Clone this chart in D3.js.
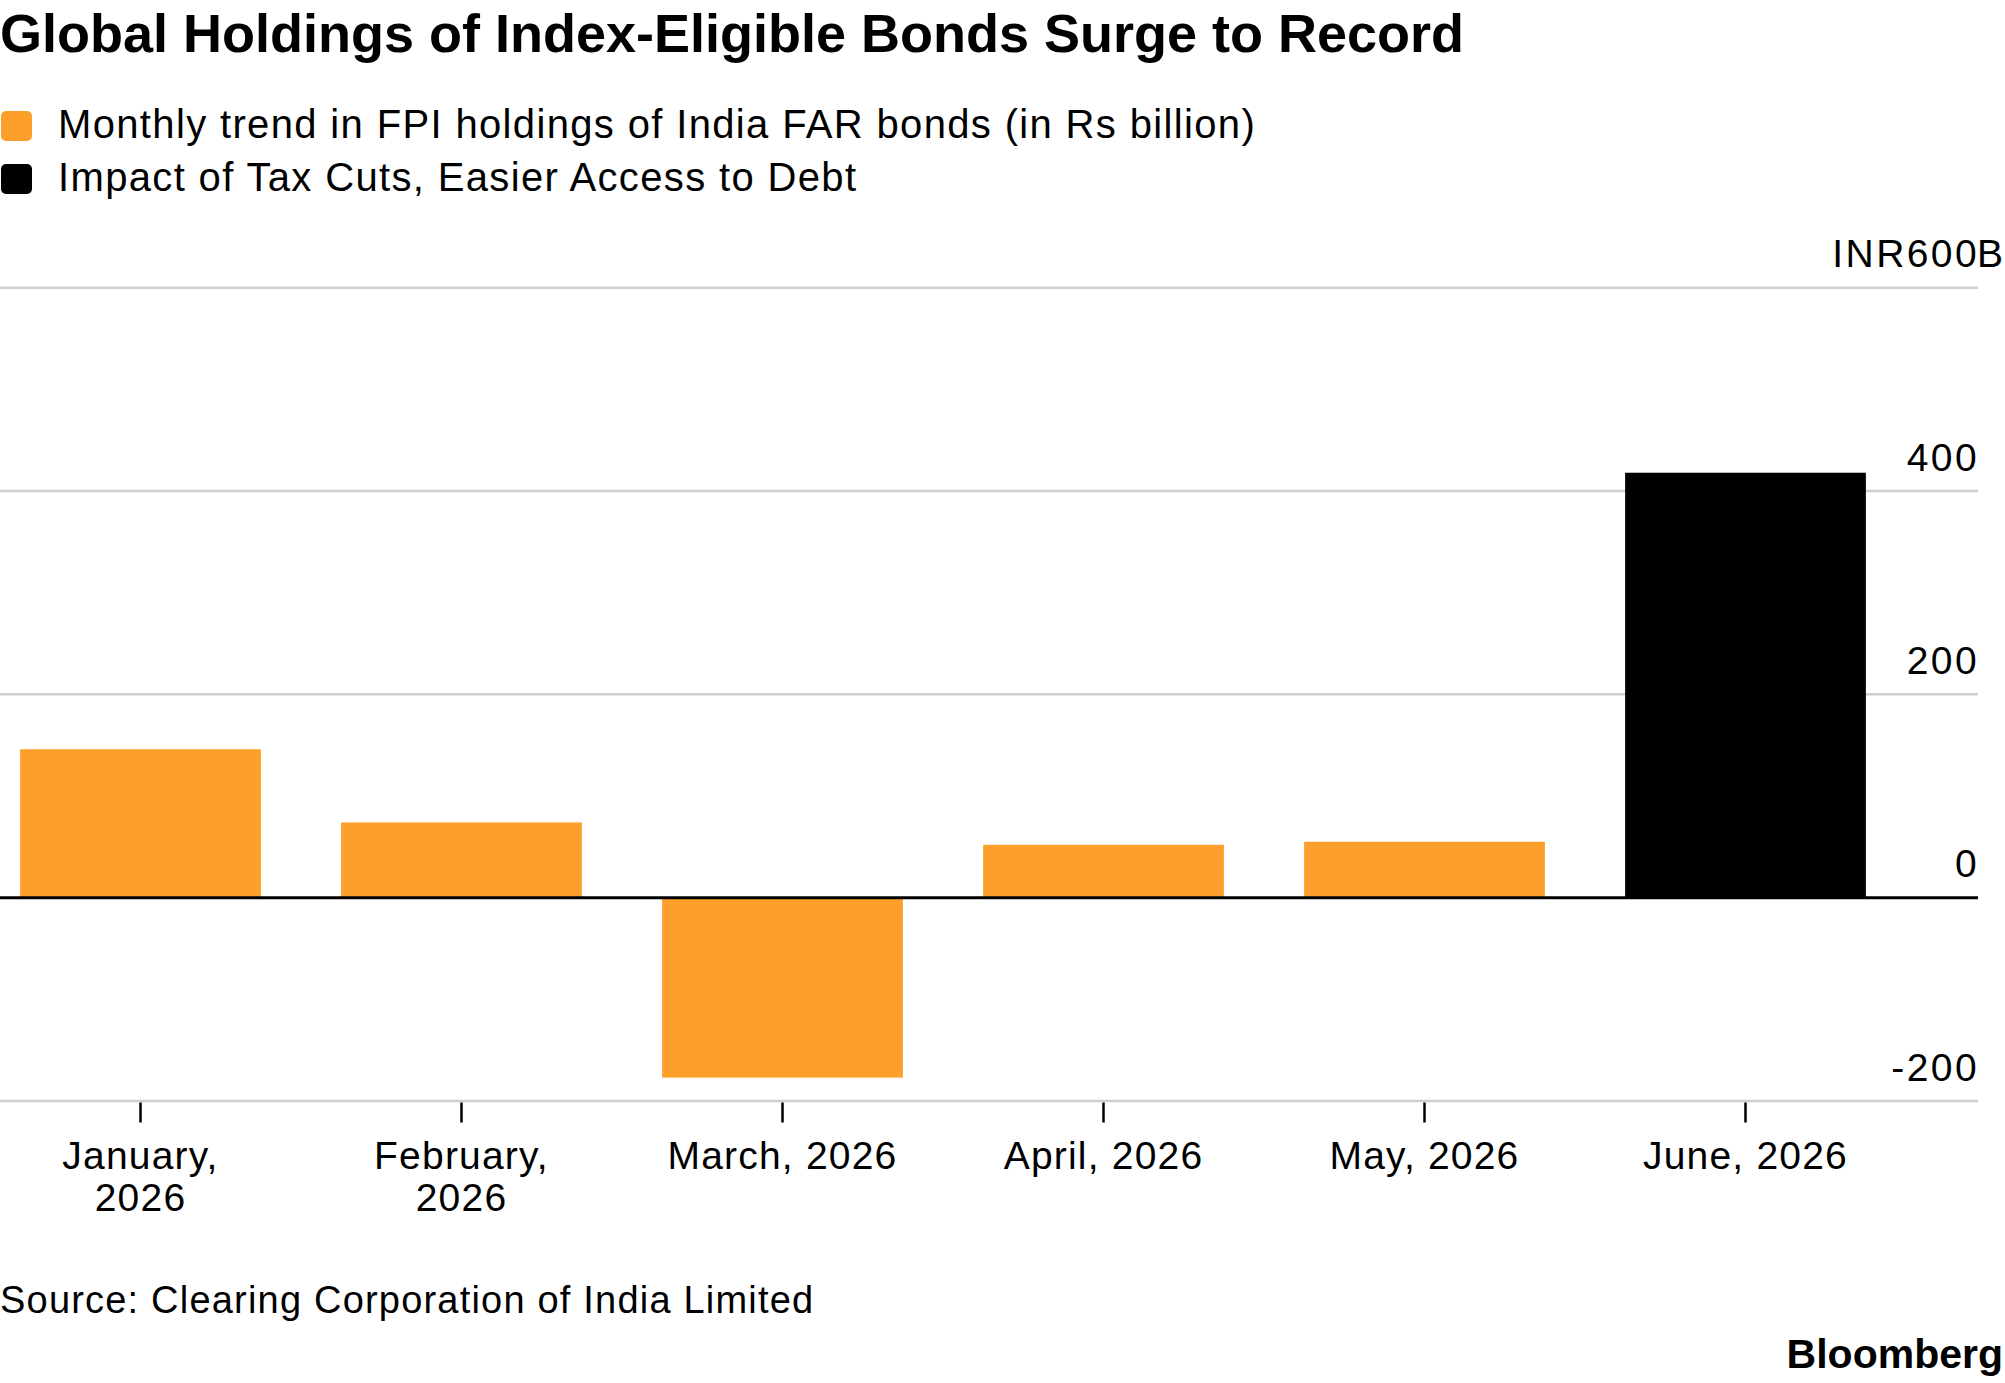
<!DOCTYPE html>
<html>
<head>
<meta charset="utf-8">
<script src="https://cdn.jsdelivr.net/npm/d3@7"></script>
<style>
  body { margin: 0; background: #fff; }
  text { font-family: "Liberation Sans", Arial, sans-serif; fill: #000; }
</style>
</head>
<body>
<div id="chart"></div>
<script>
// data (Rs billion)
var months = ["January, 2026", "February, 2026", "March, 2026", "April, 2026", "May, 2026", "June, 2026"];
var holdings = [146, 74, -177, 52, 55, 418];
var seriesOf = ["trend", "trend", "trend", "trend", "trend", "impact"];
var legendLabels = ["Monthly trend in FPI holdings of India FAR bonds (in Rs billion)", "Impact of Tax Cuts, Easier Access to Debt"];
var yTicks = [-200, 0, 200, 400, 600];

var svgWidth = 2005;
var svgHeight = 1383;

var colors = { trend: "#fca02b", impact: "#000000" };

var svg = d3.select("#chart")
  .append("svg")
  .attr("width", svgWidth)
  .attr("height", svgHeight);

// title
svg.append("text")
  .attr("x", 0)
  .attr("y", 52)
  .attr("font-size", "54px")
  .attr("font-weight", "bold")
  .attr("letter-spacing", "0px")
  .text("Global Holdings of Index-Eligible Bonds Surge to Record");

// legend
var legend = svg.selectAll(".legend")
  .data(legendLabels)
  .enter()
  .append("g")
  .attr("class", "legend")
  .attr("transform", (d, i) => `translate(1, ${111 + i * 53})`);

legend.append("rect")
  .attr("width", 31)
  .attr("height", 30)
  .attr("rx", 5)
  .attr("fill", (d, i) => i == 0 ? colors.trend : colors.impact);

legend.append("text")
  .attr("x", 57)
  .attr("y", 27)
  .attr("font-size", "40px")
  .attr("letter-spacing", "1.35px")
  .text(d => d);

// scales
var gridRight = 1978;
var yScale = d3.scaleLinear()
  .domain([-200, 600])
  .range([1101, 287.7]);

var xScale = d3.scaleBand()
  .domain(months)
  .range([-20, 1906])
  .paddingInner(0.25)
  .paddingOuter(0.125);

// gridlines
svg.append("g")
  .selectAll("line")
  .data(yTicks.filter(d => d != 0))
  .enter()
  .append("line")
  .attr("x1", 0)
  .attr("x2", gridRight)
  .attr("y1", d => yScale(d))
  .attr("y2", d => yScale(d))
  .attr("stroke", "#cfcfcf")
  .attr("stroke-width", 2.5);

// y axis labels on the right
var yAxis = d3.axisRight(yScale)
  .tickValues(yTicks)
  .tickSize(0)
  .tickFormat(d => d == 600 ? "INR600" : d);

var yG = svg.append("g")
  .attr("transform", `translate(${gridRight}, 0)`)
  .call(yAxis);
yG.select(".domain").remove();
yG.selectAll("text")
  .attr("x", 1)
  .attr("dy", -21)
  .attr("text-anchor", "end")
  .attr("font-size", "39px")
  .attr("letter-spacing", "2.4px")
  .attr("font-family", null)
  .attr("fill", "#000");
yG.selectAll(".tick")
  .filter(d => d == 600)
  .append("text")
  .attr("x", -1)
  .attr("dy", -21)
  .attr("font-size", "39px")
  .attr("fill", "#000")
  .text("B");

// bars
svg.append("g")
  .selectAll("rect")
  .data(holdings)
  .enter()
  .append("rect")
  .attr("x", (d, i) => xScale(months[i]))
  .attr("width", xScale.bandwidth())
  .attr("y", d => yScale(Math.max(0, d)))
  .attr("height", d => Math.abs(yScale(d) - yScale(0)))
  .attr("fill", (d, i) => colors[seriesOf[i]]);

// zero line
svg.append("line")
  .attr("x1", 0)
  .attr("x2", gridRight)
  .attr("y1", yScale(0))
  .attr("y2", yScale(0))
  .attr("stroke", "#000")
  .attr("stroke-width", 3);

// x axis
var xAxis = d3.axisBottom(xScale)
  .tickSize(20)
  .tickPadding(0)
  .tickFormat("");

var xG = svg.append("g")
  .attr("transform", `translate(0, ${yScale(-200) + 1.5})`)
  .call(xAxis);
xG.select(".domain").remove();
xG.selectAll(".tick line")
  .attr("stroke", "#000")
  .attr("stroke-width", 2.5);

// wrap month names that are wider than a bar onto two lines
var maxLabel = xScale.bandwidth();
xG.selectAll(".tick")
  .append("text")
  .attr("font-size", "39px")
  .attr("letter-spacing", "1.2px")
  .attr("text-anchor", "middle")
  .attr("fill", "#000")
  .each(function(d) {
    var t = d3.select(this);
    var lines = [d];
    t.text(d);
    if (this.getComputedTextLength() > maxLabel) {
      var parts = d.split(" ");
      lines = [parts[0], parts.slice(1).join(" ")];
    }
    t.text(null);
    lines.forEach(function(l, i) {
      t.append("tspan")
        .attr("x", 0)
        .attr("y", 66 + i * 42)
        .text(l);
    });
  });

// source and logo
svg.append("text")
  .attr("x", 0)
  .attr("y", 1313)
  .attr("font-size", "38px")
  .attr("letter-spacing", "1.2px")
  .text("Source: Clearing Corporation of India Limited");

svg.append("text")
  .attr("x", 2003)
  .attr("y", 1368)
  .attr("text-anchor", "end")
  .attr("font-size", "41px")
  .attr("font-weight", "bold")
  .text("Bloomberg");
</script>
</body>
</html>
